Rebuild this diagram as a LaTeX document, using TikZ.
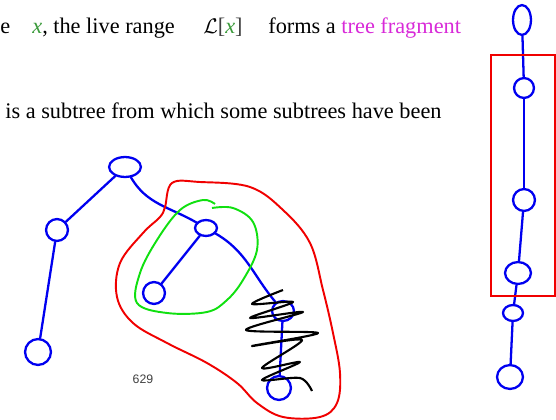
\documentclass[tikz,border=0pt]{standalone}
\usepackage{fontspec}
\setmainfont{Liberation Serif}
\setsansfont{Liberation Sans}
\usetikzlibrary{positioning,shapes.geometric}
\definecolor{penblue}{HTML}{0000F0}
\definecolor{penred}{HTML}{F00000}
\definecolor{pengreen}{HTML}{10E010}
\definecolor{varc}{HTML}{3A9A3A}
\definecolor{fragc}{HTML}{D82AD8}
\tikzset{
  txt/.style={inner sep=0pt,anchor=base west,font=\fontsize{12.7}{15}\selectfont},
  vtx/.style={draw=penblue,line width=1.3pt,ellipse,inner sep=0pt},
  sz/.style 2 args={minimum width=#1*0.567pt,minimum height=#2*0.567pt},
  edge/.style={penblue,line width=1.3pt,line cap=round},
  blob/.style={line width=1.1pt,line join=round}
}
\begin{document}
\begin{tikzpicture}[x=0.02cm,y=-0.02cm]
  \useasboundingbox (0,0) rectangle (556,420);
  % slide text
  \node[txt] (t0) at (0,33) {e};
  \node[txt] (t1) at (32,33) {\textcolor{varc}{\textit{x}}, the live range};
  \node[txt] (t2) at (203,33) {$\mathcal{L}$\textcolor{darkgray}{[}\textcolor{varc}{\textit{x}}\textcolor{darkgray}{]}};
  \node[txt] (t3) at (268,33) {forms a \textcolor{fragc}{tree fragment}};
  \node[txt] (t4) at (5,118) {is a subtree from which some subtrees have been};
  \node[inner sep=0pt,font=\sffamily\fontsize{7}{8}\selectfont,text=darkgray] (pg) at (143,379) {629};
  % left tree
  \node[vtx,sz={32}{20}] (top) at (125,167) {};
  \node[vtx,sz={22}{22}] (lft) at (57,230) {};
  \node[vtx,sz={26}{26}] (low) at (38,352) {};
  \node[vtx,sz={22}{16}] (mid) at (206,228) {};
  \node[vtx,sz={22}{22}] (inn) at (154,293) {};
  \node[vtx,sz={22}{20}] (scr) at (283,311) {};
  \node[vtx,sz={24}{24}] (bot) at (279,388) {};
  \draw[edge] (top) -- (lft);
  \draw[edge] (lft) -- (low);
  \draw[edge] (top) to[out=-60,in=150] (mid);
  \draw[edge] (mid) -- (inn);
  \draw[edge] (mid) to[out=-30,in=130] (scr);
  \draw[edge] (scr) -- (bot);
  % live range (red) and fragment (green)
  \draw[blob,penred] plot[smooth cycle,tension=0.6] coordinates {
    (165,207) (172,183) (200,182) (250,187) (283,210) (310,243) (323,290)
    (333,333) (340,373) (337,403) (320,417) (283,417) (257,403) (237,383)
    (207,363) (167,343) (133,323) (117,297) (120,263) (143,233) (160,217)};
  \draw[blob,pengreen] plot[smooth,tension=0.6] coordinates {
    (212,208) (233,208) (253,222) (257,250) (243,280) (227,300) (207,312)
    (167,313) (137,303) (140,273) (157,240) (180,210) (203,200) (215,204)};
  % scratched-out vertex
  \draw[black,line width=1.2pt,line join=round] plot[smooth,tension=0.5] coordinates {
    (283,290) (252,304) (293,302) (250,318) (303,312) (246,330) (318,333)
    (252,346) (302,340) (262,368) (300,362) (262,380) (300,378) (312,391)};
  % right chain
  \node[vtx,sz={18}{30}] (r1) at (522,20) {};
  \node[vtx,sz={20}{20}] (r2) at (524,88) {};
  \node[vtx,sz={22}{22}] (r3) at (524,200) {};
  \node[vtx,sz={26}{22}] (r4) at (518,273) {};
  \node[vtx,sz={20}{16}] (r5) at (513,313) {};
  \node[vtx,sz={26}{24}] (r6) at (510,377) {};
  \draw[edge] (r1) -- (r2);
  \draw[edge] (r2) -- (r3);
  \draw[edge] (r3) -- (r4);
  \draw[edge] (r4) -- (r5);
  \draw[edge] (r5) -- (r6);
  \draw[penred,line width=1.6pt] (491,55) rectangle (555.5,296);
\end{tikzpicture}
\end{document}
